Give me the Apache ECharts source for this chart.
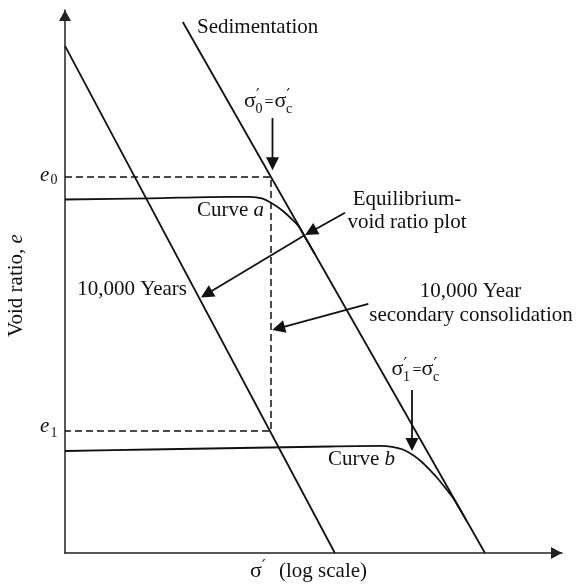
<!DOCTYPE html>
<html>
<head>
<meta charset="utf-8">
<script src="https://cdn.jsdelivr.net/npm/echarts@6/dist/echarts.min.js"></script>
<style>
  html, body { margin: 0; padding: 0; background: #fff; }
  #chart { width: 576px; height: 584px; }
</style>
</head>
<body>
<div id="chart"></div>
<script>
// Schematic e – log σ' diagram; both axes use relative units 0–100.
const sedimentationLine = [[23.7, 97.8], [84.5, 0]];
const tenThousandYearLine = [[0, 93.4], [54.3, 0]];
const curveA = [[0, 65.1], [17.1, 65.32], [33.2, 65.6], [37.2, 65.6], [39.6, 65.29], [41.85, 64.27],
  [43.86, 62.98], [45.5, 61.6], [46.95, 60.22], [47.8, 58.93], [50.31, 55.0]];
const curveB = [[0, 18.78], [17.1, 19.06], [35.2, 19.34], [53.3, 19.61], [63.4, 19.71], [65.8, 19.56],
  [68.0, 19.06], [70.0, 18.05], [71.8, 16.76], [73.4, 15.29], [75.25, 13.44], [76.86, 11.6], [78.1, 10.13], [80.75, 6.0]];
const e0 = 69.24;
const e1 = 22.47;
const sigmaC = 41.45;
// Pointer arrows: [fromX, fromY, toX, toY]
const arrows = [
  [41.75, 80.1, 41.75, 70.5],
  [56.34, 62.67, 48.29, 58.56],
  [48.29, 58.56, 27.36, 47.05],
  [61.03, 45.86, 41.69, 41.07],
  [69.82, 30.02, 69.82, 18.78]
];

const FONT = '"Liberation Serif", "Times New Roman", serif';
const PRIME_FONT = '"DejaVu Serif", serif';
const INK = '#111';

// text placed by its alphabetic baseline (canvas "middle" sits ~0.3375em above it)
function txt(text, x, base, size, extra) {
  extra = extra || {};
  return {
    type: 'text', x: x, y: base - 0.3375 * size, z: 50, silent: true,
    style: {
      text: text, fontFamily: extra.family || FONT, fontSize: size, fill: INK,
      fontStyle: extra.italic ? 'italic' : 'normal',
      align: extra.align || 'left', verticalAlign: 'middle',
      rich: extra.rich
    }
  };
}
function sigma(x, base, sub) {
  const out = [txt('σ', x, base, 22), txt('′', x + 12, base - 7, 16, { family: PRIME_FONT })];
  if (sub) out.push(txt(sub, x + 11.5, base + 5.3, 14));
  return out;
}
const italicRich = { i: { fontStyle: 'italic', fontFamily: FONT, fontSize: 21, fill: INK } };

const graphics = [].concat(
  [txt('Sedimentation', 197, 35, 21)],
  sigma(244, 108.7, '0'), [txt('=', 264.5, 108.3, 16)], sigma(274.5, 108.7, 'c'),
  [txt('Equilibrium-', 407, 207, 21, { align: 'center' }),
   txt('void ratio plot', 407, 230, 21, { align: 'center' }),
   txt('Curve {i|a}', 197, 218, 21, { rich: italicRich }),
   txt('10,000 Years', 187, 297, 21, { align: 'right' }),
   txt('10,000 Year', 470.5, 299, 21, { align: 'center' }),
   txt('secondary consolidation', 471, 323, 21, { align: 'center' })],
  sigma(391.5, 377, '1'), [txt('=', 412.5, 376.6, 16)], sigma(421.5, 377, 'c'),
  [txt('Curve {i|b}', 328, 467, 21, { rich: italicRich }),
   txt('e', 40, 182.5, 21, { italic: true }), txt('0', 50.5, 185, 14),
   txt('e', 40, 433.5, 21, { italic: true }), txt('1', 50.5, 438, 14)],
  sigma(250, 579, null), [txt('(log scale)', 279, 579, 21)],
  [{
    type: 'text', x: 16.2, y: 285.5, rotation: Math.PI / 2, z: 50, silent: true,
    style: { text: 'Void ratio, {i|e}', fontFamily: FONT, fontSize: 21, fill: INK,
      align: 'center', verticalAlign: 'middle', rich: italicRich }
  }]
);

const axisCommon = {
  type: 'value', min: 0, max: 100,
  axisLine: { show: true, symbol: ['none', 'triangle'], symbolSize: [12, 11], symbolOffset: [0, -5.5],
    lineStyle: { color: '#222', width: 1.5 } },
  axisTick: { show: false }, axisLabel: { show: false }, splitLine: { show: false }
};

function solid(data, smooth) {
  return {
    type: 'line', data: data, showSymbol: false, symbol: 'none', silent: true,
    smooth: smooth ? 0.3 : false,
    lineStyle: { color: INK, width: 1.8, join: 'round' }
  };
}

const chart = echarts.init(document.getElementById('chart'), null, { renderer: 'canvas' });
chart.setOption({
  animation: false,
  backgroundColor: '#fff',
  grid: { left: 65, right: 14, top: 10, bottom: 31 },
  xAxis: axisCommon,
  yAxis: axisCommon,
  series: [
    solid(sedimentationLine, false),
    solid(tenThousandYearLine, false),
    solid(curveA, true),
    solid(curveB, true),
    {
      type: 'line', showSymbol: false, symbol: 'none', silent: true,
      data: [[0, e0], [sigmaC, e0], [sigmaC, e1], [0, e1]],
      lineStyle: { color: INK, width: 1.5, type: [7, 4] }
    },
    {
      type: 'custom', silent: true,
      data: arrows,
      encode: { x: [0, 2], y: [1, 3] },
      renderItem: function (params, api) {
        const p0 = api.coord([api.value(0), api.value(1)]);
        const p1 = api.coord([api.value(2), api.value(3)]);
        const dx = p1[0] - p0[0], dy = p1[1] - p0[1];
        const len = Math.hypot(dx, dy);
        const ux = dx / len, uy = dy / len;
        const hl = 13, hw = 6.5;
        const bx = p1[0] - ux * hl, by = p1[1] - uy * hl;
        return {
          type: 'group',
          children: [
            { type: 'line', shape: { x1: p0[0], y1: p0[1], x2: bx + ux, y2: by + uy },
              style: { stroke: INK, lineWidth: 1.8 } },
            { type: 'polygon', shape: { points: [[p1[0], p1[1]], [bx - uy * hw, by + ux * hw], [bx + uy * hw, by - ux * hw]] },
              style: { fill: INK } }
          ]
        };
      }
    }
  ],
  graphic: graphics
});
</script>
</body>
</html>
